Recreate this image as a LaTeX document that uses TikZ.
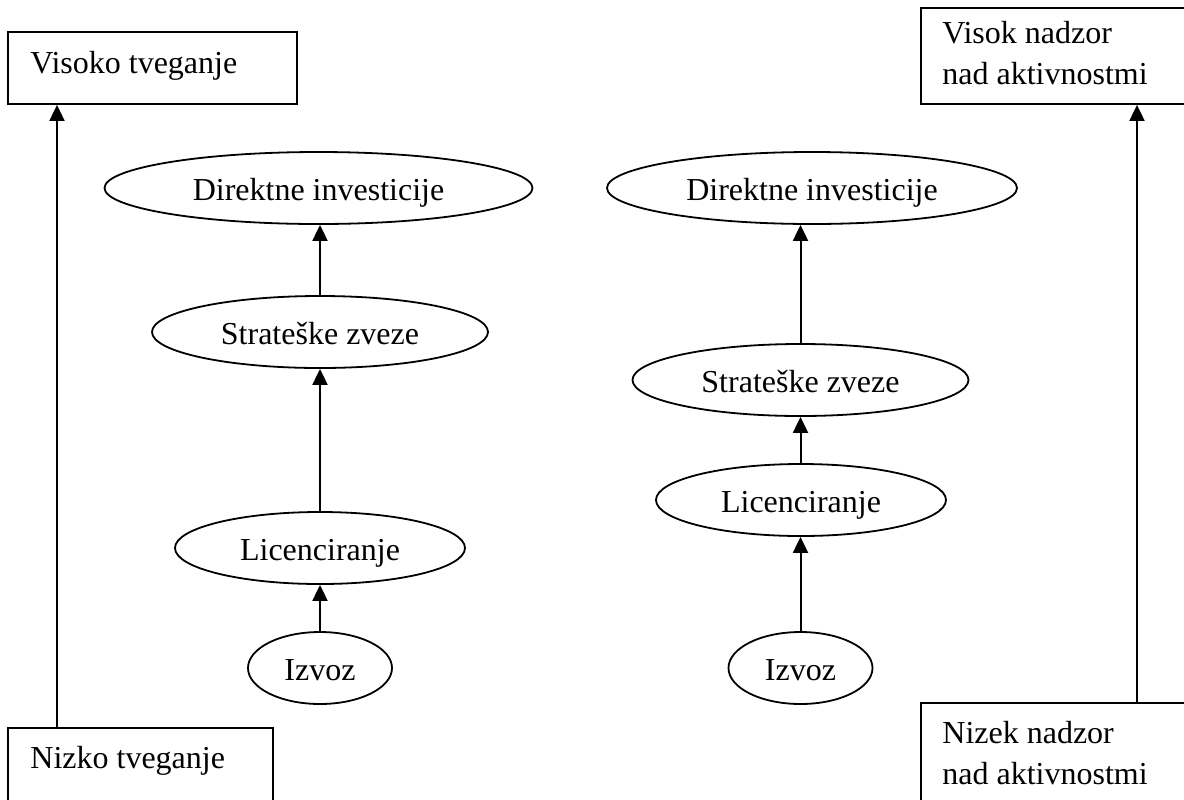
\documentclass[tikz,border=0pt]{standalone}
\usepackage{fontspec}
\setmainfont{Liberation Serif}
\usetikzlibrary{shapes.geometric,arrows.meta}
\tikzset{
  oval/.style={draw, ellipse, line width=0.9pt, inner sep=0pt, minimum height=36pt, text height=14pt, text depth=2pt, font=\fontsize{16}{20.5}\selectfont},
  box/.style={draw, rectangle, line width=0.9pt, inner sep=0pt},
  lbl/.style={inner sep=0pt, align=left, font=\fontsize{16}{20.5}\selectfont},
  arr/.style={line width=1pt, -{Triangle[length=8pt, width=7.5pt]}}
}
\begin{document}
\begin{tikzpicture}[x=0.5pt, y=-0.5pt]
\useasboundingbox (0,0) rectangle (1184,799);
\clip (0,0) rectangle (1184,799);
% corner boxes
\node[box, minimum width=144.5pt, minimum height=36pt] (tl) at (152.5,68) {};
\node[lbl, anchor=base west] (tlt) at (30,73) {Visoko tveganje};
\node[box, minimum width=132.5pt, minimum height=60pt] (bl) at (140.5,788) {};
\node[lbl, anchor=base west] (blt) at (30,768) {Nizko tveganje};
\node[box, minimum width=150pt, minimum height=48pt] (tr) at (1071,56) {};
\node[lbl, anchor=base west] (trt) at (942,84) {Visok nadzor\\nad aktivnostmi};
\node[box, minimum width=150pt, minimum height=70pt] (br) at (1071,773) {};
\node[lbl, anchor=base west] (brt) at (942,784) {Nizek nadzor\\nad aktivnostmi};
\coordinate (la) at (57,0);
\coordinate (ra) at (1137,0);
\draw[arr] (bl.north -| la) -- (tl.south -| la);
\draw[arr] (br.north -| ra) -- (tr.south -| ra);
% left column
\node[oval, minimum width=214pt] (ld) at (318.5,188) {Direktne investicije};
\node[oval, minimum width=168pt] (ls) at (320,332) {Strateške zveze};
\node[oval, minimum width=145pt] (ll) at (320,548) {Licenciranje};
\node[oval, minimum width=72pt] (li) at (320,668) {Izvoz};
\draw[arr] (ls.north) -- (ld.south -| ls.north);
\draw[arr] (ll.north) -- (ls.south);
\draw[arr] (li.north) -- (ll.south);
% right column
\node[oval, minimum width=205pt] (rd) at (812,188) {Direktne investicije};
\node[oval, minimum width=168pt] (rs) at (800.5,380) {Strateške zveze};
\node[oval, minimum width=145pt] (rl) at (801,500) {Licenciranje};
\node[oval, minimum width=72pt] (ri) at (800.5,668) {Izvoz};
\draw[arr] (rs.north) -- (rd.south -| rs.north);
\draw[arr] (rl.north -| rs.north) -- (rs.south);
\draw[arr] (ri.north) -- (rl.south -| ri.north);
\end{tikzpicture}
\end{document}
